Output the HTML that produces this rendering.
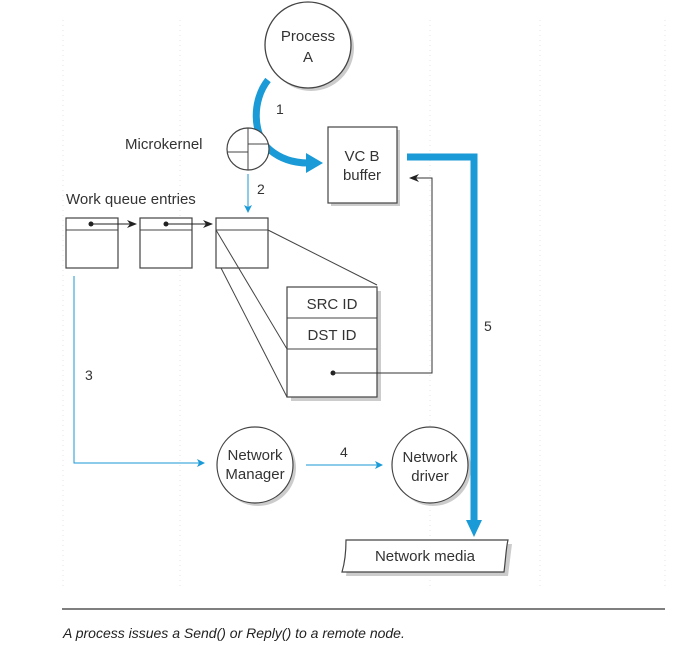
<!DOCTYPE html>
<html><head><style>
body{margin:0;background:#fff;}
svg{display:block;font-family:"Liberation Sans",sans-serif;}
</style></head><body>
<svg width="685" height="645" viewBox="0 0 685 645">
<defs>
<marker id="ab" markerWidth="8" markerHeight="8" refX="7" refY="4" orient="auto" markerUnits="userSpaceOnUse"><path d="M0,0 L8,4 L0,8 L2,4Z" fill="#1a9ad6"/></marker>
<marker id="ak" markerWidth="10" markerHeight="8" refX="9" refY="4" orient="auto" markerUnits="userSpaceOnUse"><path d="M0,0 L10,4 L0,8 L3,4Z" fill="#222"/></marker>
</defs>
<g stroke="#e4e4e4" stroke-dasharray="1,4">
<line x1="63" y1="20" x2="63" y2="590"/><line x1="180" y1="20" x2="180" y2="590"/><line x1="430" y1="20" x2="430" y2="590"/><line x1="540" y1="20" x2="540" y2="590"/><line x1="665" y1="20" x2="665" y2="590"/>
</g>
<!-- Process A -->
<circle cx="311" cy="48" r="43" fill="#ccc"/>
<circle cx="308" cy="45" r="43" fill="#fff" stroke="#444" stroke-width="1.3"/>
<text x="308" y="41" font-size="15" text-anchor="middle" fill="#333">Process</text>
<text x="308" y="62" font-size="15" text-anchor="middle" fill="#333">A</text>
<!-- arrow 1 -->
<path d="M268,80 C252,100 252,135 270,150 C282,160 296,163 308,163" fill="none" stroke="#1a9ad6" stroke-width="7"/>
<path d="M306,153 L323,163 L306,173Z" fill="#1a9ad6"/>
<text x="276" y="114" font-size="14" fill="#333">1</text>
<!-- microkernel -->
<text x="125" y="149" font-size="15" fill="#333">Microkernel</text>
<circle cx="248" cy="149" r="21" fill="#fff" stroke="#444" stroke-width="1.2"/>
<line x1="248" y1="128" x2="248" y2="170" stroke="#444"/>
<line x1="227" y1="152" x2="248" y2="152" stroke="#444"/>
<line x1="248" y1="144" x2="269" y2="144" stroke="#444"/>
<!-- 2 -->
<line x1="248" y1="174" x2="248" y2="212" stroke="#1a9ad6" marker-end="url(#ab)"/>
<text x="257" y="194" font-size="14" fill="#333">2</text>
<!-- VC B -->
<rect x="331" y="130" width="69" height="76" fill="#ccc"/>
<rect x="328" y="127" width="69" height="76" fill="#fff" stroke="#444" stroke-width="1.2"/>
<text x="362" y="161" font-size="15" text-anchor="middle" fill="#333">VC B</text>
<text x="362" y="180" font-size="15" text-anchor="middle" fill="#333">buffer</text>
<!-- 5 -->
<path d="M407,157 L474,157 L474,522" fill="none" stroke="#1a9ad6" stroke-width="7"/>
<path d="M466,520 L474,537 L482,520Z" fill="#1a9ad6"/>
<text x="484" y="331" font-size="14" fill="#333">5</text>
<!-- queue -->
<text x="66" y="204" font-size="15" fill="#333">Work queue entries</text>
<g fill="#fff" stroke="#444" stroke-width="1.2">
<rect x="66" y="218" width="52" height="50"/><rect x="140" y="218" width="52" height="50"/><rect x="216" y="218" width="52" height="50"/>
</g>
<g stroke="#444"><line x1="66" y1="230" x2="118" y2="230"/><line x1="140" y1="230" x2="192" y2="230"/><line x1="216" y1="230" x2="268" y2="230"/></g>
<circle cx="91" cy="224" r="2.5" fill="#222"/><line x1="91" y1="224" x2="136" y2="224" stroke="#222" marker-end="url(#ak)"/>
<circle cx="166" cy="224" r="2.5" fill="#222"/><line x1="166" y1="224" x2="212" y2="224" stroke="#222" marker-end="url(#ak)"/>
<!-- projection -->
<g stroke="#444" fill="none">
<line x1="216" y1="230" x2="287" y2="349"/>
<line x1="268" y1="230" x2="377" y2="285"/>
<line x1="221" y1="268" x2="287" y2="397"/>
</g>
<rect x="291" y="291" width="90" height="110" fill="#ccc"/>
<rect x="287" y="287" width="90" height="110" fill="#fff" stroke="#444" stroke-width="1.2"/>
<line x1="287" y1="318" x2="377" y2="318" stroke="#444"/>
<line x1="287" y1="349" x2="377" y2="349" stroke="#444"/>
<text x="332" y="309" font-size="15" text-anchor="middle" fill="#333">SRC ID</text>
<text x="332" y="340" font-size="15" text-anchor="middle" fill="#333">DST ID</text>
<circle cx="333" cy="373" r="2.5" fill="#222"/>
<path d="M333,373 L432,373 L432,178 L410,178" fill="none" stroke="#333" marker-end="url(#ak)"/>
<!-- 3 -->
<path d="M74,276 L74,463 L204,463" fill="none" stroke="#1a9ad6" marker-end="url(#ab)"/>
<text x="85" y="380" font-size="14" fill="#333">3</text>
<!-- managers -->
<circle cx="258" cy="468" r="38" fill="#ccc"/>
<circle cx="255" cy="465" r="38" fill="#fff" stroke="#444" stroke-width="1.2"/>
<text x="255" y="460" font-size="15" text-anchor="middle" fill="#333">Network</text>
<text x="255" y="479" font-size="15" text-anchor="middle" fill="#333">Manager</text>
<line x1="306" y1="465" x2="382" y2="465" stroke="#1a9ad6" marker-end="url(#ab)"/>
<text x="340" y="457" font-size="14" fill="#333">4</text>
<circle cx="433" cy="468" r="38" fill="#ccc"/>
<circle cx="430" cy="465" r="38" fill="#fff" stroke="#444" stroke-width="1.2"/>
<text x="430" y="462" font-size="15" text-anchor="middle" fill="#333">Network</text>
<text x="430" y="481" font-size="15" text-anchor="middle" fill="#333">driver</text>
<line x1="474" y1="440" x2="474" y2="522" stroke="#1a9ad6" stroke-width="7"/>
<!-- media -->
<path d="M350,544 L512,544 L508,576 L346,576 Z" fill="#ccc"/>
<path d="M346,540 L508,540 C506,548 506,556 504,572 L342,572 C345,562 346,552 346,540Z" fill="#fff" stroke="#444" stroke-width="1.2"/>
<text x="425" y="561" font-size="15" text-anchor="middle" fill="#333">Network media</text>
<line x1="62" y1="609" x2="665" y2="609" stroke="#555" stroke-width="1.5"/>
<text x="63" y="638" font-size="14" font-style="italic" fill="#222">A process issues a Send() or Reply() to a remote node.</text>
</svg>
</body></html>
